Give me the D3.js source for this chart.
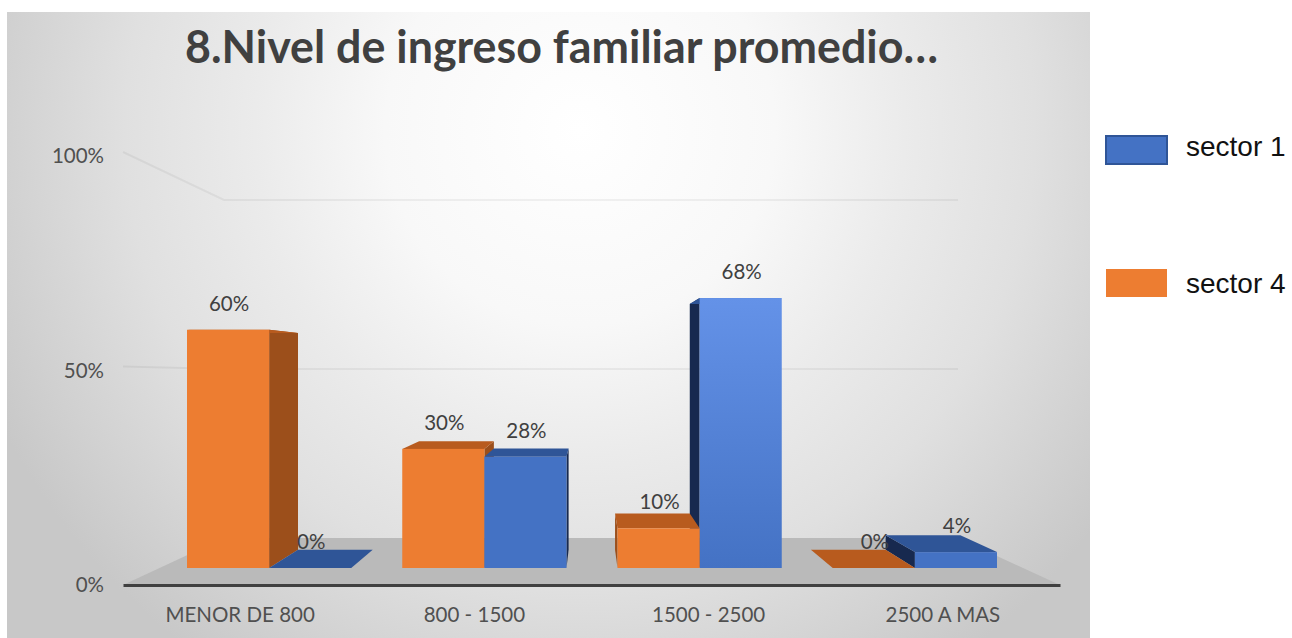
<!DOCTYPE html>
<html>
<head>
<meta charset="utf-8">
<script src="https://cdn.jsdelivr.net/npm/d3@7"></script>
<style>
    html, body { margin: 0; padding: 0; background: #fff; }
    svg { display: block; }
    text { font-family: Lato, Carlito, sans-serif; }
    .x_axis text, .y_axis text { fill: #505050; font-size: 20.5px; }
    .bar_label { fill: #404040; font-size: 20.5px; text-anchor: middle; }
    .legend_label { font-family: "Liberation Sans", Arial, sans-serif; font-size: 28px; fill: #111; }
</style>
</head>
<body>
<div id="chart"></div>
<script>
var title = '8.Nivel de ingreso familiar promedio…';
var categories = ['MENOR DE 800', '800 - 1500', '1500 - 2500', '2500 A MAS'];
var series_names = ['sector 4', 'sector 1'];
var sector_4 = [0.60, 0.30, 0.10, 0];
var sector_1 = [0, 0.28, 0.68, 0.04];
var y_ticks = [0, 0.5, 1];
var legend_order = ['sector 1', 'sector 4'];

var width = 1292, height = 638;
var svg = d3.select('#chart').append('svg').attr('width', width).attr('height', height);
var defs = svg.append('defs');

var bg = defs.append('radialGradient').attr('id', 'bg_fill')
    .attr('gradientUnits', 'userSpaceOnUse')
    .attr('cx', 580).attr('cy', 130).attr('r', 650);
[[0, '#ffffff'], [0.3, '#f8f8f8'], [0.5, '#ebebeb'], [0.7, '#e0e0e0'], [0.85, '#d4d4d4'], [1, '#c8c8c8']].forEach(s => {
    bg.append('stop').attr('offset', s[0]).attr('stop-color', s[1]);
});

var tall = defs.append('linearGradient').attr('id', 'tall_fill')
    .attr('x1', 0).attr('y1', 0).attr('x2', 0).attr('y2', 1);
tall.append('stop').attr('offset', '0%').attr('stop-color', '#6492e8');
tall.append('stop').attr('offset', '100%').attr('stop-color', '#4472c4');

var colors = {
    'sector 4': { front: '#ed7d31', top: '#b85b1e', side: '#9c4f1b' },
    'sector 1': { front: '#4472c4', top: '#2f5597', side: '#17294f' }
};

// background panel
svg.append('rect').attr('x', 7).attr('y', 12).attr('width', 1083).attr('height', 626).attr('fill', 'url(#bg_fill)');

svg.append('text').text(title)
    .attr('x', 185).attr('y', 63)
    .attr('textLength', 753).attr('lengthAdjust', 'spacingAndGlyphs')
    .attr('font-weight', 700).attr('font-size', 45)
    .attr('fill', '#404040');

// three y scales: axis plane in front, back wall, and the bars themselves
var y_axis_scale = d3.scaleLinear().domain([0, 1]).range([585, 156]);
var y_wall = d3.scaleLinear().domain([0, 1]).range([538, 200]);
var y_bar = d3.scaleLinear().domain([0, 1]).range([568, 171]);

var x_axis_scale = d3.scaleBand().domain(categories).range([123, 1060]);
var x_wall = d3.scaleLinear().domain([0, 1]).range([224, 958]);
var x_group = d3.scaleBand().domain(categories).range([187, 997]).paddingInner(0.237).paddingOuter(0);
var x_sub = d3.scaleBand().domain(series_names).range([0, x_group.bandwidth()]);

// floor
var floor_pts = [
    [x_axis_scale.range()[0], y_axis_scale(0)],
    [x_axis_scale.range()[1], y_axis_scale(0)],
    [x_wall(1), y_wall(0)],
    [x_wall(0), y_wall(0)]
];
svg.append('polygon').attr('points', floor_pts.join(' ')).attr('fill', '#bababa');

// grid lines, bent where side wall meets back wall
y_ticks.filter(d => d > 0).forEach(t => {
    var pts = [
        [x_axis_scale.range()[0], y_axis_scale(t) - 4],
        [x_wall(0), y_wall(t)],
        [x_wall(1), y_wall(t)]
    ];
    svg.append('polyline').attr('points', pts.join(' '))
        .attr('fill', 'none').attr('stroke', '#000').attr('stroke-opacity', 0.05).attr('stroke-width', 2);
});

// perspective: a point moves toward the vanishing point as it goes back
var vanish = [590, 364];
var depth = 0.09;
function back(p) {
    return [p[0] + (vanish[0] - p[0]) * depth, p[1] + (vanish[1] - p[1]) * depth];
}
function draw_bar(category, name, value) {
    var c = colors[name];
    var x0 = x_group(category) + x_sub(name);
    var x1 = x0 + x_sub.bandwidth();
    var y0 = y_bar(0);
    var y1 = y_bar(value);
    var g = svg.append('g').attr('class', 'bar');
    // side face: whichever side looks toward the vanishing point
    var sx = x1 < vanish[0] ? x1 : x0;
    g.append('polygon')
        .attr('points', [[sx, y1], back([sx, y1]), back([sx, y0]), [sx, y0]].join(' '))
        .attr('fill', c.side);
    g.append('polygon')
        .attr('points', [[x0, y1], [x1, y1], back([x1, y1]), back([x0, y1])].join(' '))
        .attr('fill', c.top);
    if (value > 0) {
        g.append('rect')
            .attr('x', x0).attr('y', y1)
            .attr('width', x1 - x0).attr('height', y0 - y1)
            .attr('fill', value > 0.5 && name == 'sector 1' ? 'url(#tall_fill)' : c.front);
    }
}
var values = { 'sector 4': sector_4, 'sector 1': sector_1 };
categories.forEach((cat, i) => {
    // bars further from the vanishing point go first so nearer ones cover their side
    var order = series_names.slice().sort((a, b) => {
        var dist = n => Math.abs(x_group(cat) + x_sub(n) + x_sub.bandwidth() / 2 - vanish[0]);
        return dist(b) - dist(a);
    });
    order.forEach(name => draw_bar(cat, name, values[name][i]));
});
categories.forEach((cat, i) => {
    series_names.forEach(name => {
        var v = values[name][i];
        svg.append('text').attr('class', 'bar_label')
            .text(d3.format('.0%')(v))
            .attr('x', x_group(cat) + x_sub(name) + x_sub.bandwidth() / 2 + 1)
            .attr('y', y_bar(v) - 26)
            .attr('dy', '0.35em');
    });
});

// axes
var x_axis = svg.append('g').attr('class', 'x_axis')
    .attr('transform', 'translate(0,' + y_axis_scale(0) + ')')
    .call(d3.axisBottom(x_axis_scale).tickSize(0).tickPadding(22));
x_axis.select('.domain').attr('stroke', '#404040').attr('stroke-width', 3);

var y_axis = svg.append('g').attr('class', 'y_axis')
    .attr('transform', 'translate(104,0)')
    .call(d3.axisLeft(y_axis_scale).tickValues(y_ticks).tickFormat(d3.format('.0%')).tickSize(0).tickPadding(0));
y_axis.select('.domain').remove();

// legend
var legend_y = d3.scalePoint().domain(legend_order).range([150, 283]);
legend_order.forEach(name => {
    var is_blue = name == 'sector 1';
    svg.append('rect')
        .attr('x', 1106).attr('y', legend_y(name) - 14)
        .attr('width', 61).attr('height', 28)
        .attr('fill', colors[name].front)
        .attr('stroke', is_blue ? colors[name].top : 'none')
        .attr('stroke-width', 2);
    svg.append('text').attr('class', 'legend_label')
        .text(name)
        .attr('x', 1186).attr('y', legend_y(name) - (is_blue ? 4 : 0))
        .attr('dy', '0.35em');
});
</script>
</body>
</html>
